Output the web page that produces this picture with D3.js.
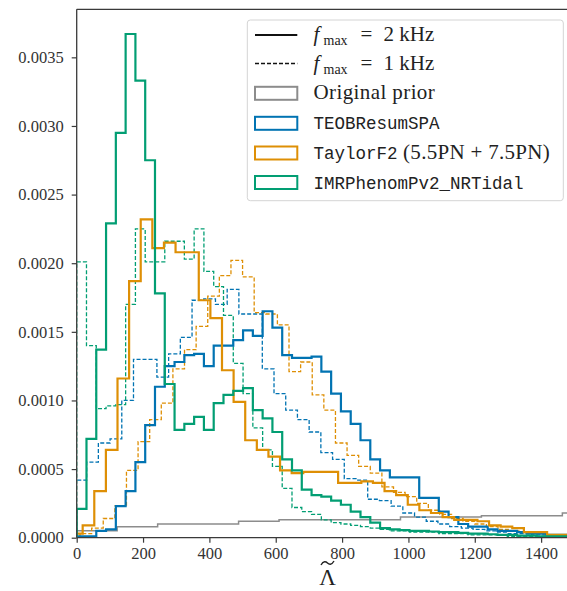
<!DOCTYPE html>
<html>
<head>
<meta charset="utf-8">
<script src="https://cdn.jsdelivr.net/npm/d3@7"></script>
<style>
  html, body { margin: 0; padding: 0; background: #fff; }
  svg { display: block; }
</style>
</head>
<body>
<div id="chart"></div>
<script>
// ---------------- DATA ----------------
const xTicks = [0, 200, 400, 600, 800, 1000, 1200, 1400];
const yTicks = [0, 0.0005, 0.0010, 0.0015, 0.0020, 0.0025, 0.0030, 0.0035];
const xDomain = [0, 1478];
const yDomain = [0, 0.00385];

// Histogram bins: first edge (in Λ) and bin width (in Λ) for each series
const priorStart = 0, priorWidth = 122;
const teobSolidStart = 0, teobSolidWidth = 29.5;
const teobDashedStart = -5.3, teobDashedWidth = 35.3;
const tf2SolidStart = -17, tf2SolidWidth = 35;
const tf2DashedStart = -25, tf2DashedWidth = 35;
const imrSolidStart = 0, imrSolidWidth = 29.5;
const imrDashedStart = 0, imrDashedWidth = 29.5;

// Original prior
const prior = [0.00005, 0.00008, 0.0001, 0.0001, 0.00012, 0.00013, 0.00013, 0.00013,
  0.00015, 0.00015, 0.00016, 0.00016, 0.00018];

// TEOBResumSPA, f_max = 2 kHz
const teobSolid = [0.00001, 0.00001, 0.00005, 0.00006, 0.00023, 0.00034, 0.00055, 0.00082,
  0.0011, 0.00125, 0.00128, 0.00133, 0.00134, 0.00125, 0.0014, 0.0014, 0.00144, 0.00151,
  0.00147, 0.00165, 0.00153, 0.00133, 0.00131, 0.00131, 0.00132, 0.00121, 0.00105, 0.00092,
  0.00083, 0.00071, 0.00057, 0.00049, 0.00044, 0.00044, 0.00044, 0.00029, 0.00029, 0.00019,
  0.00015, 0.0001, 0.00008, 0.00008, 0.00006, 0.00005, 0.00005, 0.00004, 0.00003, 0.00003,
  0.00002, 0.00002];

// TEOBResumSPA, f_max = 1 kHz
const teobDashed = [0.00042, 0.00055, 0.00069, 0.00072, 0.001, 0.0013, 0.0013, 0.00117,
  0.00134, 0.00146, 0.00173, 0.00174, 0.0017, 0.00181, 0.00163, 0.00163, 0.00123, 0.00105,
  0.00093, 0.00086, 0.00077, 0.00062, 0.00057, 0.00043, 0.00042, 0.00028, 0.00027, 0.00023,
  0.00018, 0.00015, 0.00012, 0.0001, 0.00008, 0.00007, 0.00006, 0.00005, 0.00004, 0.00003,
  0.00003, 0.00002, 0.00002, 0.00001, 0.00001];

// TaylorF2 (5.5PN + 7.5PN), f_max = 2 kHz
const tf2Solid = [0.00003, 0.00009, 0.00034, 0.00064, 0.00116, 0.00187, 0.00232, 0.00211,
  0.00215, 0.00208, 0.00208, 0.00173, 0.0016, 0.00122, 0.00099, 0.00071, 0.00064, 0.00059,
  0.00049, 0.00047, 0.00048, 0.00048, 0.00048, 0.0004, 0.0004, 0.00041, 0.0004, 0.00034,
  0.00031, 0.00024, 0.0002, 0.00018, 0.00015, 0.00013, 0.00013, 0.00012, 0.00009, 0.00008,
  0.00007, 0.00004, 0.00004, 0.00002, 0.00002];

// TaylorF2 (5.5PN + 7.5PN), f_max = 1 kHz
const tf2Dashed = [0.00001, 0.00003, 0.00007, 0.00014, 0.00023, 0.00049, 0.0007, 0.00086,
  0.00098, 0.00123, 0.00137, 0.00154, 0.00176, 0.00191, 0.00202, 0.0019, 0.00164, 0.00163,
  0.00155, 0.00121, 0.00128, 0.00104, 0.00093, 0.00069, 0.0006, 0.00052, 0.00047, 0.00037,
  0.00033, 0.0003, 0.00025, 0.0002, 0.00017, 0.00014, 0.00012, 0.0001, 0.00008, 0.00006,
  0.00005, 0.00004, 0.00003, 0.00002, 0.00002];

// IMRPhenomPv2_NRTidal, f_max = 2 kHz
const imrSolid = [0.00021, 0.00072, 0.00137, 0.00229, 0.00295, 0.00367, 0.00333, 0.00275,
  0.00178, 0.00112, 0.000785, 0.00083, 0.00088, 0.000785, 0.00098, 0.00104, 0.00107, 0.00109,
  0.00093, 0.00087, 0.00077, 0.00057, 0.00049, 0.00035, 0.00031, 0.0003, 0.00027, 0.00024,
  0.00019, 0.00015, 0.00011, 0.00007, 0.00006, 0.000055, 0.00005, 0.00005, 0.000045, 0.00004,
  0.00004, 0.000035, 0.00003, 0.00003, 0.000025, 0.00002, 0.00002, 0.000015, 0.000015,
  0.00001, 0.00001, 0.00001];

// IMRPhenomPv2_NRTidal, f_max = 1 kHz
const imrDashed = [0.00201, 0.0014, 0.00094, 0.00096, 0.00097, 0.0017, 0.00225, 0.00201,
  0.00201, 0.00216, 0.00216, 0.00203, 0.00225, 0.00194, 0.00183, 0.00162, 0.00127, 0.00105,
  0.0008, 0.00064, 0.00052, 0.00036, 0.00022, 0.00019, 0.00017, 0.00013, 0.00011, 0.0001,
  0.00009, 0.00008, 0.00007, 0.00006, 0.00005, 0.00005, 0.00004, 0.00004, 0.00004, 0.00003,
  0.00003, 0.00003, 0.00002, 0.00002, 0.00002, 0.00002, 0.00001, 0.00001, 0.00001, 0.00001,
  0.00001, 0.00001];

const legendLabels = ["Original prior", "TEOBResumSPA", "TaylorF2", "IMRPhenomPv2_NRTidal"];

// ---------------- STYLE ----------------
const W = 567, H = 591;
const C = { blue: "#0173b2", orange: "#de8f05", green: "#029e73", gray: "#8c8c8c", axis: "#3a3a3a", text: "#333" };
const serif = "'Liberation Serif', 'DejaVu Serif', serif";
const mono = "'Liberation Mono', 'DejaVu Sans Mono', monospace";

const svg = d3.select("#chart").append("svg").attr("width", W).attr("height", H);

const x = d3.scaleLinear().domain(xDomain).range([76.7, 567]);
const y = d3.scaleLinear().domain(yDomain).range([537.7, 9.3]);

svg.append("clipPath").attr("id", "plotclip").append("rect")
  .attr("x", x(xDomain[0])).attr("y", y(yDomain[1]))
  .attr("width", x(xDomain[1]) - x(xDomain[0])).attr("height", y(0) - y(yDomain[1]));

const line = d3.line().x(d => x(d[0])).y(d => y(d[1]));
function stepPts(start, width, vals) {
  const pts = [[start, 0]];
  vals.forEach((v, i) => { pts.push([start + i * width, v]); pts.push([start + (i + 1) * width, v]); });
  pts.push([start + vals.length * width, 0]);
  return pts;
}

const g = svg.append("g").attr("clip-path", "url(#plotclip)");
const series = [
  { s: priorStart, w: priorWidth, v: prior, c: C.gray, lw: 1.5, dash: null },
  { s: teobDashedStart, w: teobDashedWidth, v: teobDashed, c: C.blue, lw: 1.3, dash: "4,2" },
  { s: tf2DashedStart, w: tf2DashedWidth, v: tf2Dashed, c: C.orange, lw: 1.3, dash: "4,2" },
  { s: imrDashedStart, w: imrDashedWidth, v: imrDashed, c: C.green, lw: 1.3, dash: "4,2" },
  { s: teobSolidStart, w: teobSolidWidth, v: teobSolid, c: C.blue, lw: 2.2, dash: null },
  { s: tf2SolidStart, w: tf2SolidWidth, v: tf2Solid, c: C.orange, lw: 2.2, dash: null },
  { s: imrSolidStart, w: imrSolidWidth, v: imrSolid, c: C.green, lw: 2.2, dash: null },
];
series.forEach(d => {
  g.append("path").attr("d", line(stepPts(d.s, d.w, d.v)))
    .attr("fill", "none").attr("stroke", d.c).attr("stroke-width", d.lw)
    .attr("stroke-linejoin", "miter")
    .attr("stroke-dasharray", d.dash);
});

// ---------------- AXES ----------------
const xAxis = d3.axisBottom(x).tickValues(xTicks).tickFormat(d3.format("d")).tickSize(5).tickPadding(5);
const yAxis = d3.axisLeft(y).tickValues(yTicks).tickFormat(d3.format(".4f")).tickSize(5).tickPadding(8);

const gx = svg.append("g").attr("transform", `translate(0,${y(0)})`).call(xAxis);
const gy = svg.append("g").attr("transform", `translate(${x(0)},0)`).call(yAxis);
[gx, gy].forEach(a => {
  a.select(".domain").remove();
  a.selectAll(".tick line").attr("stroke", C.axis).attr("stroke-width", 1.2);
  a.selectAll(".tick text").attr("fill", C.text).style("font-family", serif).style("font-size", "16.5px");
});

// spines (left, bottom, top; right spine lies at the picture's edge)
const sp = svg.append("g").attr("stroke", C.axis).attr("stroke-width", 1.3).attr("fill", "none");
sp.append("line").attr("x1", x(0)).attr("x2", x(0)).attr("y1", y(yDomain[1])).attr("y2", y(0));
sp.append("line").attr("x1", x(0)).attr("x2", x(xDomain[1])).attr("y1", y(0)).attr("y2", y(0));
sp.append("line").attr("x1", x(0)).attr("x2", x(xDomain[1])).attr("y1", y(yDomain[1])).attr("y2", y(yDomain[1]));

// x label: Lambda with a tilde accent drawn above it
const lx = x(756);
svg.append("text").attr("x", lx).attr("y", 585).attr("text-anchor", "middle")
  .style("font-family", serif).style("font-size", "23px").attr("fill", "#222").text("Λ");
svg.append("path")
  .attr("d", `M${lx - 6.5},${565} C${lx - 4},${560.5} ${lx - 1.5},${561.5} ${lx},${563} S${lx + 4},${565.5} ${lx + 6.5},${561}`)
  .attr("fill", "none").attr("stroke", "#222").attr("stroke-width", 1.4);

// ---------------- LEGEND ----------------
const lg = svg.append("g");
lg.append("rect").attr("x", 247.3).attr("y", 20).attr("width", 316).attr("height", 180.7)
  .attr("rx", 3).attr("fill", "#fff").attr("fill-opacity", 0.85).attr("stroke", "#d4d4d4").attr("stroke-width", 1);
const rowY = [35, 63.5, 93.3, 123.3, 153, 182.5];
const hx0 = 255, hx1 = 297.3, tx = 313.5;
const fs = "21px";

// line handles
lg.append("line").attr("x1", hx0).attr("x2", hx1).attr("y1", rowY[0]).attr("y2", rowY[0]).attr("stroke", "#111").attr("stroke-width", 1.8);
lg.append("line").attr("x1", hx0).attr("x2", hx1).attr("y1", rowY[1]).attr("y2", rowY[1]).attr("stroke", "#111").attr("stroke-width", 1.3).attr("stroke-dasharray", "4,2");
function fmaxText(yy, val) {
  const base = yy + 6;
  const t = lg.append("text").attr("x", tx).attr("y", base).style("font-family", serif).attr("fill", "#222");
  t.append("tspan").style("font-size", fs).style("font-style", "italic").text("f");
  t.append("tspan").attr("x", tx + 10).attr("dy", 4).style("font-size", "14px").text("max");
  t.append("tspan").attr("x", tx + 47).attr("dy", -4).style("font-size", fs).text("=");
  t.append("tspan").attr("x", tx + 70).style("font-size", fs).text(`${val} kHz`);
}
fmaxText(rowY[0], 2);
fmaxText(rowY[1], 1);

// patch handles
const patchColors = [C.gray, C.blue, C.orange, C.green];
patchColors.forEach((c, i) => {
  const yy = rowY[i + 2];
  lg.append("rect").attr("x", hx0).attr("y", yy - 6.5).attr("width", hx1 - hx0).attr("height", 13)
    .attr("fill", "#fff").attr("stroke", c).attr("stroke-width", 2);
});
lg.append("text").attr("x", tx).attr("y", rowY[2] + 6).style("font-family", serif).style("font-size", fs)
  .style("letter-spacing", "0.4px").attr("fill", "#222").text(legendLabels[0]);
lg.append("text").attr("x", tx).attr("y", rowY[3] + 6).style("font-family", mono).style("font-size", "17.5px").attr("fill", "#222").text(legendLabels[1]);
const t4 = lg.append("text").attr("x", tx).attr("y", rowY[4] + 6).attr("fill", "#222");
t4.append("tspan").style("font-family", mono).style("font-size", "17.5px").text(legendLabels[2]);
t4.append("tspan").style("font-family", serif).style("font-size", fs).style("letter-spacing", "0.3px").text(" (5.5PN + 7.5PN)");
lg.append("text").attr("x", tx).attr("y", rowY[5] + 6).style("font-family", mono).style("font-size", "17.5px").attr("fill", "#222").text(legendLabels[3]);
</script>
</body>
</html>
